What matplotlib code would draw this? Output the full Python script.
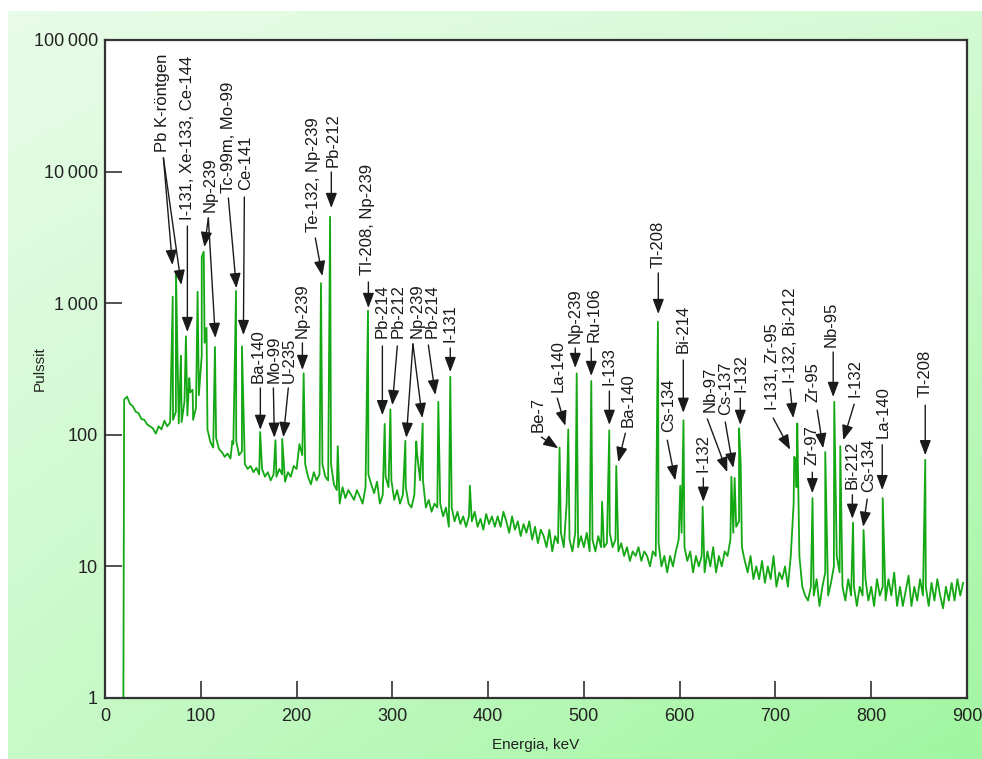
import numpy as np
import matplotlib
matplotlib.use('Agg')
import matplotlib.pyplot as plt
from matplotlib.ticker import NullLocator

plt.rcParams['font.family'] = ['Liberation Sans', 'DejaVu Sans']

# continuum counts, one value every 3 keV from 20 keV on
continuum = [
    185, 195, 172, 165, 150, 146, 132, 130, 120, 116,   # 20-47
    112, 102, 116, 110, 128, 116, 124, 130, 150, 122,   # 50-77
    125, 180, 140, 210, 130, 160, 200, 400, 500, 110,   # 80-107
    88, 80, 95, 78, 74, 68, 72, 66, 85, 90,             # 110-137
    70, 75, 60, 55, 58, 52, 56, 50, 55, 48,             # 140-167
    52, 45, 50, 48, 55, 50, 44, 52, 48, 58,             # 170-197
    55, 85, 70, 60, 48, 42, 52, 45, 50, 60,             # 200-227
    48, 45, 60, 42, 38, 30, 40, 33, 38, 35,             # 230-257
    32, 38, 34, 30, 40, 50, 42, 36, 44, 30,             # 260-287
    35, 48, 40, 45, 32, 38, 30, 35, 40, 30,             # 290-317
    28, 35, 70, 45, 45, 28, 32, 26, 30, 28,             # 320-347
    30, 24, 28, 20, 28, 22, 26, 21, 24, 20,             # 350-377
    24, 22, 26, 20, 23, 19, 25, 21, 24, 20,             # 380-407
    24, 20, 26, 22, 18, 24, 19, 22, 17, 21,             # 410-437
    18, 22, 16, 20, 15, 19, 17, 14, 19, 13,             # 440-467
    17, 15, 18, 14, 30, 16, 13, 18, 14, 17,             # 470-497
    14, 18, 13, 16, 13, 17, 14, 14, 15, 18,             # 500-527
    14, 16, 13, 15, 12, 14, 11, 13, 12, 14,             # 530-557
    11, 13, 12, 10, 13, 12, 15, 10, 12, 9,              # 560-587
    12, 10, 13, 16, 18, 14, 11, 13, 9, 12,              # 590-617
    10, 12, 9, 13, 10, 14, 9, 12, 10, 13,               # 620-647
    12, 16, 18, 20, 22, 14, 11, 9, 12, 8,               # 650-677
    10, 8, 11, 7.5, 10, 8, 12, 7, 9, 8,                 # 680-707
    10, 7, 12, 30, 40, 12, 7, 6, 5.5, 7,                # 710-737
    6, 8, 5, 7, 9, 6, 7.5, 10, 12, 9,                   # 740-767
    7, 5.5, 8, 6, 7, 5, 7, 6, 8, 5.5,                   # 770-797
    7, 5, 8, 6, 7, 5.5, 8, 6, 9, 5,                     # 800-827
    7, 5, 6.5, 8.5, 5, 7, 5.5, 8, 6, 7,                 # 830-857
    5, 7.5, 5.5, 8, 6, 4.8, 7, 5.5, 7.5, 5.5,           # 860-887
    8, 6, 7.5,                                          # 890-896
]
start_energy = 19.2
start_counts = 1

peak_energy = [70.7, 74.1, 79.3, 84.5, 88.0, 91.5, 96.7, 101.0, 103.1, 106.0,
               114.8, 133.0, 136.8, 143.0, 162.0, 178.0, 185.0, 207.4, 225.5, 235.0,
               243.0, 274.6, 292.0, 298.0, 313.6, 325.0, 331.7, 348.0, 360.5, 381.0,
               474.6, 483.7, 492.5, 507.7, 519.0, 526.5, 533.8, 577.3, 600.6, 604.0,
               624.0, 654.0, 657.4, 662.0, 663.7, 719.6, 721.3, 722.8, 738.7, 752.0,
               761.4, 767.7, 781.0, 792.0, 812.0, 856.4]
peak_counts = [1120, 1740, 400, 560, 270, 220, 1220, 2250, 2460, 650,
               465, 90, 1240, 470, 105, 91, 93, 293, 1420, 4540,
               82, 877, 121, 156, 90, 89, 122, 178, 276, 41,
               80, 110, 293, 256, 31, 108, 58, 722, 41, 129,
               28.5, 48, 47, 112, 61, 68, 65, 122, 33, 74,
               178, 82, 21.5, 18.9, 33, 64.5]

x_ticks = [0, 100, 200, 300, 400, 500, 600, 700, 800, 900]
y_ticks = [1, 10, 100, 1000, 10000, 100000]
y_tick_labels = ['1', '10', '100', '1\u2009000', '10\u2009000', '100\u2009000']

# label, text bottom, line start, arrow tips (data coordinates)
notes = [
    ("Pb K-röntgen", (59.9, 14090), (61.0, 12690), [(70.4, 1950), (79.7, 1375)]),
    ("I-131, Xe-133, Ce-144", (86.0, 4290), (86.0, 3860), [(86.0, 604)]),
    ("Np-239", (110.0, 4930), (107.9, 4440), [(103.8, 2670), (115.2, 544)]),
    ("Tc-99m, Mo-99", (128.8, 6880), (128.8, 6300), [(137.2, 1300)]),
    ("Ce-141", (146.6, 7250), (145.5, 6410), [(144.5, 573)]),
    ("Ba-140", (159.6, 248), (162.2, 227), [(162.2, 109)]),
    ("Mo-99", (176.8, 248), (175.8, 227), [(176.8, 95)]),
    ("U-235", (192.5, 248), (191.4, 227), [(186.2, 96)]),
    ("Np-239", (206.1, 544), (206.1, 499), [(206.1, 311)]),
    ("Te-132, Np-239", (217.5, 3475), (219.6, 3130), [(226.9, 1610)]),
    ("Pb-212", (238.3, 10840), (236.3, 9930), [(236.3, 5290)]),
    ("Tl-208, Np-239", (274.0, 1638), (275.0, 1449), [(275.0, 920)]),
    ("Pb-214", (289.6, 544), (289.6, 473), [(289.6, 141)]),
    ("Pb-212", (306.3, 544), (305.2, 473), [(300.0, 168)]),
    ("Np-239", (326.1, 544), (321.5, 490), [(314.6, 95), (331.3, 134)]),
    ("Pb-214", (341.8, 544), (337.6, 481), [(344.9, 201)]),
    ("I-131", (360.5, 507), (360.5, 457), [(360.5, 300)]),
    ("Be-7", (452.3, 105), (455.6, 96), [(473.3, 79)]),
    ("La-140", (473.3, 211), (472.2, 190), [(480.6, 117)]),
    ("Np-239", (491.0, 499), (491.0, 457), [(491.0, 322)]),
    ("Ru-106", (510.9, 507), (507.7, 457), [(507.7, 280)]),
    ("I-133", (526.6, 239), (526.6, 215), [(526.6, 119)]),
    ("Ba-140", (546.5, 115), (543.3, 103), [(535.9, 62)]),
    ("Tl-208", (577.7, 1850), (577.7, 1697), [(577.7, 828)]),
    ("Cs-134", (588.1, 105), (587.1, 91), [(595.4, 45)]),
    ("Bi-214", (603.8, 419), (603.8, 370), [(603.8, 147)]),
    ("I-132", (624.7, 52), (624.7, 47), [(624.7, 31)]),
    ("Nb-97", (632.0, 149), (628.9, 132), [(649.7, 52)]),
    ("Cs-137", (647.6, 141), (647.6, 125), [(655.9, 56)]),
    ("I-132", (664.4, 211), (663.3, 190), [(663.3, 119)]),
    ("I-131, Zr-95", (696.8, 154), (697.7, 134), [(715.4, 77)]),
    ("I-132, Bi-212", (715.4, 248), (715.4, 223), [(718.6, 134)]),
    ("Zr-97", (738.5, 59), (738.5, 52), [(738.5, 36)]),
    ("Zr-95", (739.5, 178), (743.6, 154), [(749.8, 79)]),
    ("Nb-95", (758.2, 465), (760.3, 426), [(760.3, 194)]),
    ("I-132", (783.3, 194), (782.2, 171), [(770.8, 91)]),
    ("Bi-212", (780.3, 39), (780.3, 35), [(780.3, 23)]),
    ("Cs-134", (796.9, 37), (795.8, 32.5), [(791.6, 20)]),
    ("La-140", (812.5, 95), (811.5, 84), [(811.5, 38)]),
    ("Tl-208", (856.4, 194), (856.4, 168), [(856.4, 70)]),
]

# spectrum = continuum grid + peaks, sorted by energy
energy = np.concatenate([[start_energy], 20 + 3 * np.arange(len(continuum)), peak_energy])
counts = np.concatenate([[start_counts], continuum, peak_counts])
order = np.argsort(energy, kind='stable')
energy = energy[order]
counts = counts[order]

fig = plt.figure(figsize=(9.82, 7.59), dpi=100)

# green gradient panel behind the plot
bg = fig.add_axes([8 / 982, 0, 974 / 982, 748 / 759], zorder=-1)
tl = np.array([232, 252, 232]) / 255
tr = np.array([212, 250, 212]) / 255
bl = np.array([200, 249, 200]) / 255
br = np.array([160, 246, 160]) / 255
u = np.linspace(0, 1, 200)[None, :, None]
v = np.linspace(0, 1, 200)[:, None, None]
img = tl * (1 - u) * (1 - v) + tr * u * (1 - v) + bl * (1 - u) * v + br * u * v
bg.imshow(img, aspect='auto', extent=[0, 1, 0, 1])
bg.axis('off')

ax = fig.add_axes([105 / 982, 61 / 759, 862 / 982, 658 / 759])
ax.set_facecolor('white')
ax.plot(energy, counts, color='#14a814', lw=1.3)

ax.set_yscale('log')
ax.set_xlim(0, 900)
ax.set_ylim(1, 100000)
ax.set_xticks(x_ticks)
ax.set_yticks(y_ticks, y_tick_labels)
ax.yaxis.set_minor_locator(NullLocator())
ax.tick_params(direction='in', length=12, width=1.2, color='#333333',
               labelcolor='#222222', labelsize=13)
ax.tick_params(axis='x', pad=7)
ax.tick_params(axis='y', pad=5)
for s in ax.spines.values():
    s.set_color('#333333')
    s.set_linewidth(1.6)

ax.set_xlabel('Energia, keV', fontsize=11, color='#222222')
ax.xaxis.set_label_coords(0.5, -0.061)
ax.set_ylabel('Pulssit', fontsize=11, color='#222222')
ax.yaxis.set_label_coords(-0.067, 0.5)

for label, txt, start, tips in notes:
    ax.text(txt[0], txt[1], label, rotation=90, ha='center', va='bottom',
            fontsize=12, color='#1a1a1a')
    for tip in tips:
        ax.annotate('', xy=tip, xytext=start,
                    arrowprops=dict(arrowstyle='-|>,head_length=0.45,head_width=0.17',
                                    color='#1a1a1a', lw=1.0, shrinkA=0, shrinkB=0,
                                    mutation_scale=20))

fig.savefig('out.png', dpi=100)
